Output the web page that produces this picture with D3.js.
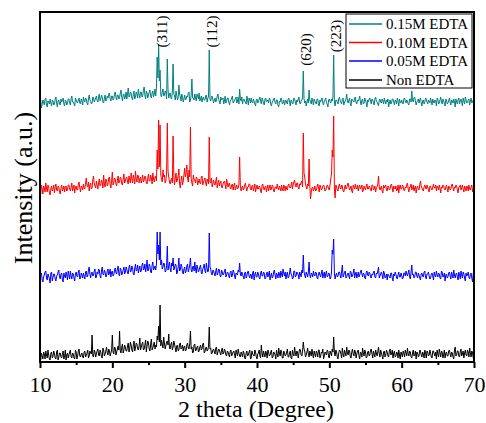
<!DOCTYPE html>
<html>
<head>
<meta charset="utf-8">
<script src="https://cdn.jsdelivr.net/npm/d3@7/dist/d3.min.js"></script>
<style>
  html, body { margin: 0; padding: 0; background: #fff; }
  svg { display: block; font-family: "Liberation Serif", "Times New Roman", serif; }
</style>
</head>
<body>
<svg id="chart" width="486" height="423"></svg>
<script>
// XRD patterns, 2θ from 10° to 70° in 0.1° steps.
// Each pattern is stored as two interleaved scans: the "A" arrays hold
// 10.0, 10.2, ... 70.0 and the "B" arrays hold 10.1, 10.3, ... 69.9.
const thetaStart = 10;
const thetaStep = 0.2;

const seriesNames = ["0.15M EDTA", "0.10M EDTA", "0.05M EDTA", "Non EDTA"];
const seriesColors = ["#008080", "#ff0000", "#0000ff", "#000000"];
const seriesOffsets = [251, 165, 78, 0];

const xTicks = [10, 20, 30, 40, 50, 60, 70];
const xMinorTicks = [15, 25, 35, 45, 55, 65];

const peakLabels = ["(311)", "(112)", "(620)", "(223)"];
const peakPositions = [26.4, 33.5, 46.5, 50.6];

const nonEdtaA = [
  5, 9, 3, 8, 11, 4, 7, 2, 10, 6,
  8, 3, 12, 5, 9, 4, 11, 6, 2, 9,
  7, 12, 4, 8, 3, 10, 6, 13, 5, 9,
  4, 11, 7, 12, 6, 9, 27, 5, 10, 8,
  13, 6, 10, 4, 12, 8, 15, 7, 11, 9,
  27, 8, 14, 10, 16, 31, 9, 18, 12, 15,
  11, 19, 13, 17, 10, 21, 14, 18, 12, 24,
  15, 20, 13, 22, 16, 19, 11, 23, 14, 20,
  17, 26, 36, 57, 22, 14, 19, 16, 21, 28,
  13, 20, 15, 18, 10, 17, 12, 19, 14, 11,
  16, 12, 19, 13, 31, 15, 10, 18, 12, 16,
  11, 17, 13, 19, 10, 15, 12, 35, 14, 9,
  13, 8, 15, 10, 12, 7, 14, 9, 11, 6,
  10, 5, 12, 8, 11, 4, 9, 13, 6, 10,
  5, 9, 3, 11, 7, 12, 4, 8, 6, 10,
  3, 9, 6, 17, 5, 8, 11, 4, 10, 7,
  12, 5, 9, 3, 8, 14, 6, 10, 4, 9,
  7, 13, 5, 11, 3, 8, 15, 6, 10, 9,
  12, 6, 20, 11, 7, 14, 5, 9, 13, 4,
  8, 11, 5, 12, 6, 9, 3, 10, 7, 11,
  4, 9, 13, 25, 6, 10, 3, 12, 8, 14,
  5, 9, 15, 7, 11, 4, 13, 6, 10, 8,
  12, 3, 9, 14, 6, 10, 5, 11, 7, 13,
  4, 8, 12, 6, 15, 5, 9, 3, 11, 7,
  10, 5, 13, 8, 4, 11, 6, 9, 12, 3,
  8, 11, 5, 9, 14, 6, 10, 4, 12, 7,
  3, 9, 6, 11, 5, 8, 12, 4, 10, 7,
  9, 4, 11, 6, 3, 8, 13, 5, 10, 7,
  4, 10, 6, 12, 5, 9, 3, 15, 7, 11,
  5, 13, 8, 4, 12, 6, 10, 14, 5, 9, 7
];
const nonEdtaB = [
  2, 6, 10, 3, 7, 12, 3, 9, 4, 11,
  4, 10, 2, 9, 5, 8, 3, 12, 7, 4,
  10, 5, 9, 4, 12, 3, 11, 6, 8, 5,
  10, 5, 9, 4, 11, 8, 6, 12, 5, 11,
  7, 12, 5, 14, 6, 11, 9, 13, 6, 12,
  10, 15, 7, 13, 12, 11, 15, 9, 17, 11,
  16, 10, 20, 12, 17, 11, 19, 13, 16, 12,
  18, 12, 17, 10, 21, 13, 18, 12, 17, 13,
  15, 22, 20, 16, 18, 25, 13, 20, 17, 14,
  18, 12, 21, 14, 16, 11, 18, 13, 17, 15,
  11, 17, 14, 18, 13, 9, 17, 11, 15, 10,
  15, 12, 18, 9, 14, 11, 16, 13, 8, 12,
  10, 14, 7, 13, 9, 12, 8, 13, 7, 11,
  7, 11, 6, 10, 7, 12, 6, 9, 5, 8,
  11, 4, 9, 6, 10, 3, 11, 7, 12, 5,
  8, 12, 4, 9, 11, 5, 9, 12, 6, 10,
  4, 10, 7, 12, 5, 9, 12, 4, 11, 6,
  10, 5, 9, 4, 12, 6, 9, 11, 4, 13,
  7, 11, 13, 5, 10, 8, 11, 6, 8, 11,
  5, 9, 12, 4, 10, 13, 6, 9, 12, 5,
  11, 6, 10, 9, 12, 5, 9, 11, 4, 8,
  12, 6, 9, 12, 5, 10, 8, 12, 4, 11,
  6, 10, 5, 9, 12, 4, 10, 6, 12, 8,
  11, 5, 9, 10, 8, 12, 6, 10, 5, 12,
  6, 11, 7, 12, 9, 5, 10, 4, 7, 10,
  5, 9, 12, 6, 8, 11, 5, 9, 6, 11,
  10, 5, 12, 7, 10, 4, 9, 11, 6, 12,
  5, 11, 8, 10, 12, 5, 9, 11, 4, 12,
  9, 6, 11, 8, 10, 5, 12, 6, 11, 6,
  10, 6, 11, 9, 7, 12, 5, 9, 11, 4
];

const edta005A = [
  6, 11, 2, 9, 13, 4, 8, 1, 12, 7,
  10, 3, 9, 14, 5, 11, 2, 8, 12, 4,
  9, 13, 5, 10, 3, 12, 7, 14, 6, 9,
  11, 5, 13, 8, 17, 6, 12, 9, 15, 7,
  10, 14, 6, 17, 9, 12, 8, 15, 11, 7,
  13, 9, 16, 10, 18, 8, 14, 11, 17, 12,
  15, 10, 19, 13, 16, 9, 20, 14, 11, 18,
  13, 21, 15, 12, 24, 14, 18, 11, 22, 16,
  14, 52, 39, 52, 24, 17, 20, 13, 38, 18,
  15, 21, 26, 16, 19, 12, 26, 14, 18, 10,
  17, 13, 20, 15, 26, 12, 18, 22, 11, 16,
  14, 19, 10, 17, 13, 21, 12, 51, 15, 9,
  13, 8, 16, 11, 14, 7, 12, 10, 15, 9,
  11, 6, 13, 9, 12, 5, 10, 14, 21, 8,
  10, 5, 12, 8, 13, 6, 9, 11, 4, 12,
  7, 10, 5, 13, 8, 11, 6, 12, 9, 4,
  11, 7, 14, 5, 9, 12, 6, 10, 15, 8,
  5, 12, 7, 16, 9, 6, 13, 8, 11, 5,
  10, 14, 29, 9, 12, 7, 22, 6, 10, 13,
  8, 11, 5, 12, 7, 14, 9, 6, 13, 8,
  10, 6, 34, 45, 5, 11, 8, 12, 6, 19,
  9, 13, 7, 11, 5, 12, 8, 15, 10, 6,
  12, 9, 14, 7, 10, 5, 13, 8, 11, 6,
  9, 13, 6, 10, 17, 8, 12, 5, 11, 7,
  4, 9, 6, 11, 3, 8, 10, 5, 12, 7,
  9, 6, 11, 13, 8, 14, 5, 19, 10, 7,
  12, 6, 9, 4, 11, 7, 13, 5, 10, 8,
  6, 11, 4, 9, 13, 7, 10, 5, 12, 8,
  3, 10, 7, 12, 5, 9, 14, 6, 11, 4,
  9, 13, 6, 10, 3, 8, 12, 5, 11, 2, 8
];
const edta005B = [
  10, 4, 7, 12, 6, 10, 5, 11, 3, 10,
  5, 8, 12, 7, 10, 4, 11, 6, 9, 13,
  5, 8, 11, 6, 10, 8, 12, 5, 11, 6,
  8, 12, 7, 14, 10, 11, 8, 13, 6, 12,
  15, 8, 13, 10, 14, 7, 13, 9, 15, 12,
  8, 14, 11, 15, 10, 16, 9, 14, 10, 17,
  11, 17, 12, 18, 10, 16, 13, 19, 15, 12,
  19, 14, 20, 17, 13, 20, 12, 19, 14, 18,
  20, 30, 24, 19, 15, 21, 12, 18, 14, 22,
  12, 18, 14, 20, 10, 17, 13, 20, 12, 15,
  11, 18, 12, 19, 14, 17, 13, 15, 19, 12,
  17, 11, 15, 20, 11, 16, 14, 17, 10, 14,
  10, 13, 9, 15, 8, 14, 9, 13, 7, 12,
  8, 12, 7, 14, 8, 11, 9, 12, 10, 12,
  7, 11, 6, 12, 8, 10, 5, 13, 9, 7,
  12, 6, 11, 8, 12, 5, 10, 7, 13, 8,
  6, 12, 9, 11, 6, 10, 13, 7, 11, 12,
  9, 6, 11, 10, 5, 13, 7, 12, 9, 12,
  7, 11, 12, 6, 10, 12, 9, 11, 7, 9,
  12, 6, 10, 9, 11, 6, 12, 10, 7, 11,
  5, 12, 30, 10, 9, 7, 12, 9, 13, 7,
  12, 6, 10, 8, 13, 7, 11, 6, 12, 9,
  7, 12, 10, 11, 6, 12, 9, 12, 7, 10,
  12, 7, 11, 13, 6, 10, 9, 13, 6, 10,
  10, 7, 11, 6, 10, 12, 6, 9, 7, 11,
  5, 11, 8, 10, 11, 7, 12, 9, 6, 12,
  8, 11, 6, 10, 8, 12, 7, 10, 12, 5,
  10, 8, 12, 7, 9, 11, 6, 13, 7, 11,
  9, 6, 11, 8, 12, 6, 9, 10, 7, 12,
  5, 9, 12, 6, 11, 9, 7, 10, 6, 11
];

const edta010A = [
  7, 12, 3, 9, 14, 5, 10, 2, 11, 8,
  4, 13, 6, 10, 3, 12, 8, 5, 11, 7,
  12, 6, 14, 9, 4, 11, 7, 15, 5, 10,
  13, 8, 19, 10, 6, 14, 9, 21, 11, 16,
  8, 18, 12, 15, 22, 10, 17, 13, 20, 9,
  25, 14, 18, 11, 21, 15, 19, 12, 23, 16,
  20, 13, 17, 24, 14, 19, 26, 15, 21, 18,
  14, 22, 17, 20, 13, 23, 16, 19, 24, 15,
  21, 47, 77, 72, 18, 27, 22, 16, 74, 20,
  13, 19, 61, 12, 24, 17, 28, 9, 21, 16,
  29, 24, 19, 27, 70, 14, 22, 17, 20, 12,
  18, 13, 21, 15, 19, 11, 16, 60, 14, 10,
  17, 12, 20, 14, 11, 16, 9, 15, 12, 18,
  10, 14, 8, 13, 11, 7, 12, 9, 40, 6,
  11, 8, 14, 6, 10, 13, 7, 12, 9, 5,
  12, 8, 10, 4, 13, 7, 11, 9, 6, 12,
  8, 11, 5, 10, 13, 7, 9, 12, 6, 10,
  11, 7, 13, 9, 15, 12, 17, 10, 14, 8,
  12, 16, 64, 20, 10, 13, 38, -2, 9, 6,
  11, 7, 13, 5, 10, 8, 12, 6, 9, 11,
  7, 18, 47, 81, -1, 10, 6, 13, 8, 11,
  5, 12, 9, 14, 7, 11, 4, 10, 13, 8,
  6, 12, 9, 5, 11, 7, 13, 8, 10, 6,
  12, 8, 5, 10, 21, 7, 11, 4, 9, 12,
  6, 10, 8, 13, 5, 9, 11, 7, 4, 12,
  8, 11, 6, 9, 14, 5, 10, 7, 12, 9,
  4, 11, 7, 16, 9, 6, 12, 8, 10, 5,
  11, 7, 13, 9, 6, 10, 12, 4, 9, 11,
  7, 12, 5, 10, 8, 13, 6, 9, 11, 4,
  10, 7, 12, 5, 9, 11, 6, 8, 10, 5, 7
];
const edta010B = [
  3, 8, 11, 5, 9, 12, 4, 8, 6, 12,
  10, 7, 11, 5, 9, 6, 11, 10, 6, 12,
  8, 10, 6, 12, 10, 7, 13, 9, 11, 7,
  9, 14, 11, 15, 12, 8, 17, 13, 9, 12,
  14, 11, 17, 9, 13, 18, 11, 19, 12, 16,
  12, 19, 13, 17, 14, 20, 13, 18, 14, 19,
  15, 21, 14, 18, 22, 13, 18, 22, 14, 20,
  18, 15, 21, 14, 19, 16, 22, 13, 18, 20,
  16, 28, 30, 22, 15, 20, 14, 24, 26, 15,
  17, 14, 22, 19, 15, 21, 13, 17, 12, 22,
  20, 32, 15, 20, 18, 11, 17, 14, 19, 15,
  14, 20, 12, 17, 14, 18, 13, 15, 19, 13,
  13, 16, 9, 17, 14, 10, 13, 16, 8, 14,
  13, 9, 12, 7, 14, 10, 8, 13, 11, 9,
  7, 12, 9, 10, 13, 8, 11, 6, 13, 9,
  8, 11, 6, 12, 9, 10, 5, 12, 10, 7,
  12, 6, 10, 8, 9, 11, 6, 8, 12, 6,
  8, 12, 10, 11, 8, 15, 12, 14, 9, 13,
  15, 10, 24, 13, 8, 11, 12, 5, 10, 8,
  6, 10, 9, 12, 7, 11, 10, 7, 12, 8,
  12, 23, 40, 8, 12, 7, 11, 9, 12, 6,
  9, 8, 12, 10, 9, 6, 12, 8, 9, 12,
  10, 8, 12, 7, 9, 11, 8, 11, 7, 12,
  7, 11, 9, 13, 10, 9, 6, 12, 11, 7,
  11, 7, 12, 9, 11, 8, 6, 12, 10, 8,
  12, 7, 10, 12, 8, 10, 13, 9, 6, 11,
  9, 8, 12, 11, 7, 10, 9, 12, 7, 11,
  8, 10, 9, 12, 11, 7, 9, 10, 12, 8,
  10, 8, 11, 7, 12, 9, 10, 12, 7, 10,
  12, 9, 8, 11, 6, 10, 12, 7, 12, 9
];

const edta015A = [
  8, 3, 11, 6, 13, 4, 9, 12, 5, 10,
  7, 14, 4, 11, 6, 9, 13, 5, 10, 8,
  12, 6, 15, 9, 5, 11, 8, 13, 7, 10,
  14, 9, 12, 6, 16, 10, 8, 13, 11, 15,
  9, 17, 12, 14, 8, 16, 11, 13, 18, 10,
  15, 12, 19, 11, 16, 13, 21, 10, 17, 14,
  12, 23, 15, 18, 11, 20, 14, 17, 22, 13,
  19, 15, 24, 12, 18, 16, 21, 13, 20, 17,
  15, 54, 67, 41, 14, 22, 16, 19, 52, 13,
  18, 12, 47, 15, 20, 11, 26, 14, 17, 9,
  16, 12, 14, 19, 11, 32, 13, 17, 10, 15,
  18, 12, 9, 14, 11, 16, 13, 61, 10, 15,
  8, 13, 11, 17, 9, 14, 12, 7, 15, 10,
  13, 6, 11, 15, 9, 12, 8, 14, 22, 10,
  7, 12, 9, 15, 6, 11, 13, 8, 10, 5,
  12, 9, 14, 7, 11, 6, 13, 10, 8, 12,
  5, 10, 13, 7, 11, 4, 9, 12, 8, 6,
  11, 7, 13, 5, 10, 8, 12, 6, 9, 14,
  7, 11, 40, 8, 5, 12, 21, 9, 13, 6,
  10, 7, 12, 5, 9, 13, 6, 11, 8, 4,
  12, 8, 10, 56, 5, 11, 7, 14, 9, 12,
  6, 10, 17, 8, 13, 5, 11, 9, 14, 7,
  10, 15, 6, 12, 8, 11, 4, 9, 13, 7,
  11, 6, 14, 9, 5, 12, 8, 10, 13, 7,
  9, 4, 11, 8, 12, 6, 10, 13, 5, 9,
  11, 7, 13, 8, 10, 6, 12, 20, 9, 14,
  6, 10, 8, 13, 5, 11, 9, 12, 7, 10,
  13, 6, 9, 11, 5, 12, 8, 14, 7, 10,
  5, 11, 8, 13, 6, 10, 12, 4, 9, 11,
  7, 12, 5, 10, 14, 8, 11, 6, 13, 9, 7
];
const edta015B = [
  11, 7, 8, 12, 6, 10, 7, 8, 11, 6,
  12, 8, 10, 7, 12, 11, 7, 11, 6, 12,
  8, 12, 9, 7, 13, 9, 11, 8, 12, 6,
  10, 13, 8, 12, 11, 7, 14, 9, 13, 10,
  14, 10, 16, 9, 13, 10, 15, 17, 12, 15,
  11, 17, 14, 16, 12, 18, 14, 16, 12, 19,
  17, 14, 19, 13, 17, 12, 19, 13, 16, 19,
  14, 21, 16, 20, 13, 19, 15, 18, 14, 22,
  24, 33, 30, 16, 19, 15, 20, 12, 21, 17,
  13, 20, 17, 11, 16, 13, 17, 10, 14, 12,
  11, 15, 18, 9, 16, 13, 11, 14, 17, 12,
  10, 15, 13, 11, 15, 9, 14, 12, 14, 11,
  11, 9, 15, 12, 7, 11, 13, 10, 8, 13,
  9, 10, 13, 8, 11, 14, 10, 7, 12, 14,
  11, 10, 7, 11, 13, 8, 9, 12, 7, 11,
  8, 12, 10, 13, 8, 12, 9, 11, 13, 7,
  9, 12, 8, 11, 6, 10, 13, 7, 11, 9,
  8, 12, 9, 11, 7, 13, 9, 11, 12, 8,
  10, 13, 12, 10, 9, 8, 11, 7, 10, 12,
  8, 12, 6, 11, 12, 8, 10, 13, 7, 11,
  9, 12, 14, 8, 11, 9, 12, 10, 7, 13,
  9, 12, 10, 11, 7, 12, 10, 13, 8, 11,
  12, 9, 11, 7, 13, 8, 11, 12, 10, 12,
  8, 12, 10, 7, 11, 9, 12, 7, 10, 11,
  12, 8, 7, 12, 9, 11, 7, 10, 12, 8,
  8, 12, 10, 11, 7, 12, 9, 11, 13, 10,
  9, 12, 11, 8, 10, 7, 13, 9, 11, 8,
  9, 12, 8, 10, 13, 7, 11, 9, 12, 8,
  12, 7, 10, 9, 11, 8, 9, 12, 7, 13,
  10, 9, 13, 7, 11, 9, 12, 10, 8, 11
];

const seriesScans = [
  [edta015A, edta015B],
  [edta010A, edta010B],
  [edta005A, edta005B],
  [nonEdtaA, nonEdtaB]
];

// merge the two interleaved scans into one ordered pattern
function mergeScans(a, b, offset) {
  const pts = [];
  a.forEach((v, i) => {
    pts.push([thetaStart + i * thetaStep, v + offset]);
    if (i < b.length) pts.push([thetaStart + thetaStep / 2 + i * thetaStep, b[i] + offset]);
  });
  return pts;
}

// ---- layout ----
const svg = d3.select("#chart");
const plotLeft = 40, plotRight = 474, plotTop = 12, plotBottom = 362;

const x = d3.scaleLinear().domain([10, 70]).range([plotLeft, plotRight]);
const y = d3.scaleLinear().domain([0, 350]).range([plotBottom, plotTop]);

const line = d3.line()
  .x(d => x(d[0]))
  .y(d => y(d[1]));

// ---- traces ----
seriesScans.forEach(([a, b], k) => {
  svg.append("path")
    .datum(mergeScans(a, b, seriesOffsets[k]))
    .attr("fill", "none")
    .attr("stroke", seriesColors[k])
    .attr("stroke-width", 1)
    .attr("stroke-linejoin", "miter")
    .attr("d", line);
});

// ---- axes ----
const xAxis = svg.append("g")
  .attr("transform", `translate(0,${plotBottom})`)
  .call(d3.axisBottom(x).tickValues(xTicks).tickSize(6).tickFormat(d3.format("d")));
xAxis.select(".domain").remove();
xAxis.selectAll(".tick line").attr("stroke", "#000").attr("stroke-width", 2);
xAxis.selectAll(".tick text")
  .attr("font-family", "Liberation Serif, serif")
  .attr("font-size", 22)
  .attr("fill", "#000")
  .attr("dy", null)
  .attr("y", 30);

const xMinor = svg.append("g")
  .attr("transform", `translate(0,${plotBottom})`)
  .call(d3.axisBottom(x).tickValues(xMinorTicks).tickSize(3).tickFormat(""));
xMinor.select(".domain").remove();
xMinor.selectAll(".tick line").attr("stroke", "#000").attr("stroke-width", 2);

// frame
svg.append("rect")
  .attr("x", plotLeft).attr("y", plotTop)
  .attr("width", plotRight - plotLeft).attr("height", plotBottom - plotTop)
  .attr("fill", "none")
  .attr("stroke", "#000")
  .attr("stroke-width", 2);

// ---- axis titles ----
svg.append("text")
  .attr("x", (plotLeft + plotRight) / 2 - 1)
  .attr("y", 417)
  .attr("text-anchor", "middle")
  .attr("font-size", 24)
  .attr("fill", "#000")
  .text("2 theta (Degree)");

svg.append("text")
  .attr("transform", "translate(32,188) rotate(-90)")
  .attr("text-anchor", "middle")
  .attr("font-size", 26)
  .attr("fill", "#000")
  .text("Intensity (a.u.)");

// ---- peak indices ----
const labelCenters = [31.5, 31.5, 49.5, 36];
const labelShift = [8, 7, 7, 7];
peakLabels.forEach((lab, i) => {
  const px = x(peakPositions[i]) + labelShift[i];
  svg.append("text")
    .attr("transform", `translate(${px},${labelCenters[i]}) rotate(-90)`)
    .attr("text-anchor", "middle")
    .attr("font-size", 15)
    .attr("fill", "#000")
    .text(lab);
});

// ---- legend ----
const legend = svg.append("g");
legend.append("rect")
  .attr("x", 346).attr("y", 14)
  .attr("width", 126).attr("height", 74)
  .attr("fill", "#fff")
  .attr("stroke", "#000")
  .attr("stroke-width", 1);

const rowY = [24, 42.5, 61, 80];
seriesNames.forEach((name, i) => {
  legend.append("line")
    .attr("x1", 349).attr("x2", 382)
    .attr("y1", rowY[i]).attr("y2", rowY[i])
    .attr("stroke", seriesColors[i])
    .attr("stroke-width", 1.5);
  legend.append("text")
    .attr("x", 386)
    .attr("y", rowY[i] + 5)
    .attr("font-size", 15)
    .attr("fill", "#000")
    .text(name);
});
</script>
</body>
</html>
